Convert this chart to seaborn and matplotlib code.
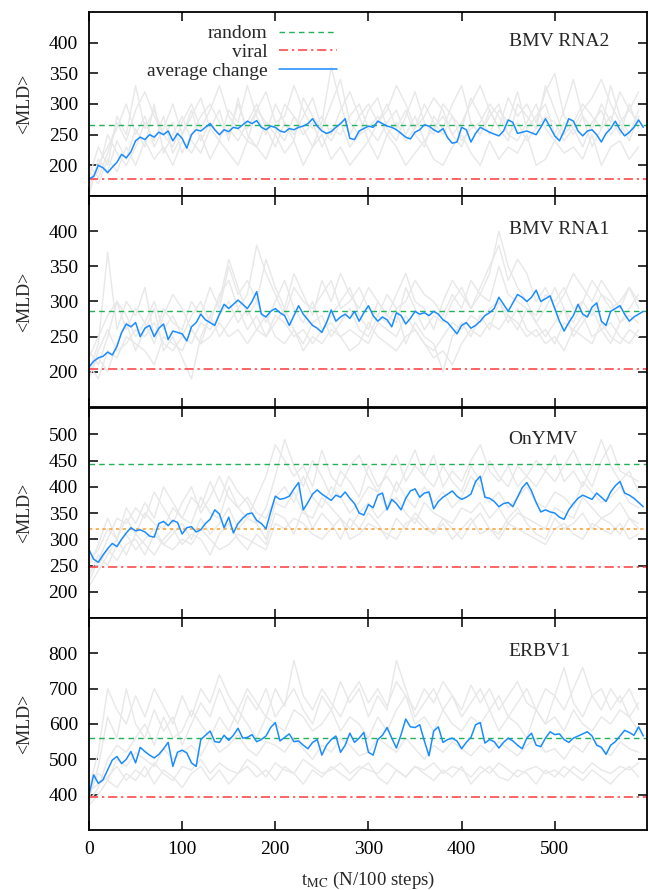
import numpy as np
import pandas as pd
import matplotlib
matplotlib.use("Agg")
import matplotlib.pyplot as plt
import seaborn as sns

# time grids (in units of N/100 MC steps)
T_AVG = np.arange(0, 600, 5)
T_RUN = np.arange(0, 600, 10)

PANELS = ["BMV RNA2", "BMV RNA1", "OnYMV", "ERBV1"]
RANDOM_MLD = [265, 287, 444, 560]
VIRAL_MLD = [177, 204, 248, 393]
ONYMV_EXTRA = 319
YLIMS = [(150, 450), (150, 450), (150, 550), (300, 900)]
YTICKS = [range(200, 401, 50), range(200, 401, 50), range(200, 501, 50), range(400, 801, 100)]

# average change curves, read at every 5 units
AVG_RNA2 = [178, 182, 200, 196, 188, 197, 205, 218, 212, 222,
            240, 246, 242, 250, 246, 254, 250, 256, 240, 252,
            244, 228, 250, 258, 256, 262, 268, 258, 250, 258,
            255, 262, 260, 266, 272, 268, 273, 262, 258, 264,
            262, 256, 254, 260, 258, 262, 264, 268, 276, 264,
            256, 252, 255, 262, 268, 276, 244, 242, 256, 260,
            264, 262, 272, 268, 264, 262, 258, 252, 246, 243,
            254, 258, 266, 264, 258, 254, 260, 245, 236, 238,
            262, 258, 238, 252, 262, 258, 254, 251, 248, 256,
            274, 270, 252, 254, 256, 253, 250, 262, 276, 262,
            248, 240, 256, 276, 272, 256, 248, 256, 258, 250,
            238, 252, 260, 272, 258, 248, 254, 262, 274, 262]
AVG_RNA1 = [207, 215, 220, 222, 228, 224, 236, 256, 268, 264,
            270, 250, 262, 266, 250, 262, 268, 246, 258, 256,
            254, 244, 264, 270, 282, 274, 270, 266, 282, 296,
            290, 296, 302, 296, 290, 300, 314, 282, 278, 286,
            290, 284, 280, 266, 280, 294, 282, 274, 266, 262,
            256, 270, 288, 272, 278, 282, 276, 286, 272, 284,
            294, 280, 272, 278, 274, 264, 284, 280, 268, 276,
            286, 282, 284, 280, 286, 282, 274, 270, 262, 254,
            266, 270, 262, 266, 272, 280, 284, 290, 306, 296,
            286, 298, 310, 306, 300, 306, 316, 300, 304, 308,
            290, 272, 258, 270, 280, 296, 282, 278, 292, 298,
            272, 266, 286, 290, 294, 282, 272, 278, 282, 286]
AVG_ONYMV = [280, 262, 256, 270, 282, 292, 286, 300, 312, 322,
             316, 318, 314, 306, 304, 330, 334, 326, 336, 332,
             310, 322, 324, 314, 318, 330, 338, 356, 348, 322,
             342, 312, 330, 340, 348, 350, 336, 330, 320, 352,
             382, 376, 378, 382, 396, 408, 356, 370, 386, 394,
             386, 380, 374, 384, 380, 390, 378, 368, 350, 346,
             366, 360, 384, 388, 356, 376, 368, 356, 378, 392,
             396, 380, 388, 390, 358, 372, 380, 386, 392, 382,
             376, 380, 386, 410, 420, 380, 378, 372, 362, 368,
             370, 362, 380, 398, 408, 392, 370, 352, 356, 352,
             350, 342, 338, 356, 368, 378, 384, 380, 376, 388,
             380, 372, 390, 402, 410, 388, 384, 378, 370, 362]
AVG_ERBV1 = [400, 456, 432, 442, 470, 498, 508, 488, 500, 522,
             490, 534, 522, 512, 504, 514, 530, 548, 480, 520,
             526, 518, 490, 480, 556, 568, 580, 550, 548, 568,
             554, 568, 588, 560, 562, 570, 550, 556, 566, 590,
             604, 552, 562, 572, 550, 552, 540, 530, 548, 556,
             512, 540, 556, 566, 520, 540, 574, 548, 560, 576,
             520, 512, 556, 568, 590, 560, 532, 570, 614, 592,
             590, 598, 552, 510, 580, 592, 548, 556, 560, 552,
             530, 548, 562, 598, 604, 546, 556, 550, 532, 548,
             560, 552, 540, 530, 560, 574, 540, 536, 560, 578,
             570, 572, 556, 548, 560, 566, 572, 578, 566, 540,
             534, 514, 540, 550, 566, 582, 576, 568, 592, 566]

# individual runs (grey), read at every 10 units
RUNS_RNA2 = [
    [160, 200, 230, 260, 300, 250, 280, 230, 260, 300, 250, 280, 310, 260, 240, 290, 270, 330, 280, 250,
     300, 270, 240, 310, 280, 260, 300, 340, 270, 250, 290, 310, 260, 240, 280, 320, 270, 250, 300, 280,
     260, 310, 280, 250, 290, 270, 320, 260, 280, 300, 250, 290, 340, 280, 260, 300, 270, 320, 290, 270],
    [190, 170, 210, 190, 230, 200, 240, 210, 230, 200, 240, 220, 250, 210, 240, 220, 200, 240, 230, 210,
     250, 220, 240, 200, 230, 250, 210, 230, 200, 220, 240, 210, 250, 230, 200, 220, 240, 210, 200, 230,
     250, 220, 200, 240, 210, 230, 220, 250, 200, 210, 240, 220, 230, 210, 250, 200, 230, 240, 210, 230],
    [180, 230, 200, 280, 250, 330, 260, 290, 250, 270, 220, 250, 280, 300, 270, 250, 300, 260, 290, 320,
     270, 280, 330, 290, 260, 280, 250, 290, 320, 280, 300, 270, 290, 330, 300, 260, 280, 310, 290, 250,
     270, 300, 330, 290, 260, 310, 280, 300, 270, 320, 350, 280, 260, 290, 310, 340, 300, 270, 290, 320],
    [170, 190, 250, 220, 200, 230, 270, 240, 280, 220, 250, 290, 240, 270, 250, 260, 240, 270, 300, 260,
     230, 270, 250, 280, 310, 260, 240, 270, 230, 250, 260, 280, 250, 270, 240, 260, 300, 270, 250, 280,
     240, 260, 270, 300, 280, 250, 240, 270, 300, 260, 240, 270, 250, 280, 230, 260, 280, 250, 300, 260],
    [200, 180, 220, 270, 240, 290, 320, 280, 250, 230, 270, 300, 260, 290, 330, 280, 260, 240, 290, 270,
     250, 300, 280, 260, 230, 270, 360, 300, 250, 280, 240, 270, 300, 260, 290, 250, 230, 280, 260, 300,
     330, 270, 250, 290, 260, 240, 300, 280, 260, 330, 290, 250, 270, 300, 280, 260, 330, 280, 250, 290],
    [150, 210, 190, 240, 210, 260, 230, 300, 220, 250, 280, 240, 220, 260, 290, 240, 310, 250, 230, 270,
     260, 240, 280, 250, 270, 230, 260, 250, 280, 300, 260, 240, 270, 290, 250, 280, 240, 260, 280, 250,
     230, 270, 250, 280, 300, 250, 270, 240, 260, 280, 270, 240, 260, 230, 270, 290, 250, 270, 240, 280],
]
RUNS_RNA1 = [
    [200, 240, 370, 260, 300, 280, 320, 250, 290, 270, 260, 300, 280, 320, 290, 350, 310, 330, 300, 360,
     320, 290, 340, 310, 280, 330, 300, 340, 310, 290, 320, 300, 280, 310, 340, 300, 290, 260, 300, 330,
     310, 290, 320, 350, 380, 330, 360, 340, 300, 320, 290, 310, 340, 320, 300, 330, 310, 290, 320, 300],
    [210, 190, 230, 220, 250, 240, 230, 210, 250, 240, 230, 260, 240, 250, 270, 250, 260, 240, 260, 280,
     250, 240, 260, 230, 250, 240, 260, 250, 230, 240, 270, 250, 240, 230, 250, 260, 240, 220, 230, 210,
     240, 260, 250, 270, 260, 280, 270, 250, 260, 240, 250, 230, 260, 250, 240, 270, 250, 240, 260, 250],
    [220, 250, 280, 300, 260, 290, 270, 300, 260, 280, 250, 280, 300, 270, 310, 330, 290, 310, 380, 340,
     310, 280, 320, 300, 290, 310, 330, 290, 300, 320, 290, 280, 310, 290, 300, 330, 310, 300, 280, 310,
     290, 330, 310, 300, 350, 310, 300, 290, 280, 310, 300, 320, 290, 300, 330, 310, 290, 300, 320, 290],
    [190, 230, 260, 230, 240, 260, 250, 270, 240, 230, 250, 240, 270, 260, 280, 300, 270, 290, 260, 250,
     280, 270, 250, 260, 240, 260, 270, 250, 260, 250, 240, 270, 260, 250, 280, 260, 240, 230, 250, 270,
     260, 280, 270, 290, 300, 270, 290, 260, 250, 260, 240, 270, 260, 280, 250, 260, 270, 250, 240, 260],
    [230, 210, 250, 300, 280, 250, 270, 240, 280, 310, 290, 260, 240, 280, 300, 360, 320, 280, 300, 270,
     300, 330, 290, 270, 300, 260, 280, 300, 320, 280, 260, 300, 280, 270, 320, 290, 260, 280, 270, 300,
     320, 290, 310, 340, 400, 350, 320, 300, 270, 290, 320, 290, 270, 300, 280, 310, 300, 270, 290, 310],
    [200, 220, 200, 240, 270, 230, 260, 290, 230, 250, 220, 190, 250, 280, 250, 270, 290, 260, 280, 250,
     270, 290, 260, 240, 270, 280, 250, 270, 290, 260, 250, 280, 270, 290, 240, 270, 250, 240, 200, 250,
     270, 250, 280, 260, 300, 280, 260, 290, 270, 250, 270, 290, 250, 270, 290, 260, 240, 270, 280, 270],
]
RUNS_ONYMV = [
    [220, 260, 300, 340, 330, 360, 340, 390, 360, 330, 370, 400, 350, 380, 420, 380, 360, 340, 380, 420,
     480, 450, 420, 440, 400, 470, 420, 400, 440, 460, 420, 390, 430, 460, 410, 440, 420, 460, 400, 430,
     410, 450, 480, 430, 410, 440, 400, 420, 450, 430, 410, 440, 470, 430, 400, 450, 480, 430, 420, 410],
    [240, 250, 280, 260, 290, 300, 270, 310, 290, 280, 300, 290, 320, 300, 280, 290, 310, 300, 290, 280,
     330, 320, 340, 330, 310, 300, 320, 340, 300, 310, 330, 320, 310, 300, 330, 340, 320, 310, 330, 300,
     320, 340, 310, 320, 300, 330, 320, 310, 300, 290, 320, 330, 310, 300, 330, 320, 310, 330, 300, 310],
    [260, 280, 320, 300, 340, 310, 350, 330, 320, 360, 340, 330, 380, 350, 340, 400, 360, 380, 350, 340,
     380, 400, 370, 420, 380, 360, 400, 380, 350, 370, 400, 390, 360, 410, 380, 360, 400, 370, 390, 360,
     380, 420, 400, 370, 390, 360, 380, 400, 370, 360, 390, 380, 360, 410, 390, 370, 380, 400, 370, 360],
    [230, 270, 250, 290, 310, 280, 300, 320, 290, 310, 330, 300, 340, 310, 330, 360, 320, 340, 330, 300,
     370, 360, 390, 350, 340, 380, 360, 340, 320, 350, 370, 340, 360, 380, 350, 330, 370, 350, 340, 330,
     360, 350, 370, 340, 360, 330, 350, 340, 330, 320, 360, 350, 340, 380, 360, 340, 350, 370, 340, 330],
    [250, 290, 340, 300, 360, 330, 370, 340, 400, 370, 340, 380, 360, 410, 370, 420, 390, 370, 330, 360,
     420, 490, 440, 400, 450, 420, 380, 430, 410, 380, 440, 400, 420, 390, 430, 470, 420, 400, 440, 410,
     390, 440, 410, 450, 420, 400, 440, 420, 400, 430, 460, 410, 430, 400, 440, 490, 440, 410, 430, 390],
    [210, 240, 270, 300, 270, 310, 290, 270, 300, 320, 290, 310, 300, 270, 310, 330, 300, 280, 310, 290,
     350, 340, 310, 360, 320, 350, 330, 300, 340, 320, 350, 330, 300, 340, 320, 350, 330, 310, 340, 320,
     300, 330, 350, 320, 310, 340, 360, 330, 310, 300, 340, 320, 330, 350, 320, 340, 330, 310, 340, 320],
]
RUNS_ERBV1 = [
    [390, 480, 620, 560, 700, 600, 560, 640, 580, 620, 540, 600, 660, 620, 700, 640, 600, 680, 640, 700,
     620, 660, 700, 640, 600, 680, 640, 720, 660, 700, 620, 680, 640, 780, 700, 620, 660, 700, 640, 680,
     620, 660, 700, 640, 680, 620, 660, 700, 640, 600, 680, 760, 660, 620, 680, 700, 640, 680, 620, 660],
    [410, 430, 450, 480, 440, 470, 450, 490, 460, 440, 480, 470, 500, 460, 490, 470, 460, 500, 480, 450,
     490, 470, 460, 500, 480, 460, 470, 490, 460, 480, 470, 460, 490, 470, 450, 480, 470, 490, 460, 480,
     470, 450, 480, 460, 490, 470, 450, 470, 480, 460, 470, 450, 480, 460, 490, 470, 460, 480, 470, 490],
    [380, 420, 500, 540, 520, 560, 600, 540, 620, 560, 580, 640, 600, 560, 620, 580, 640, 600, 560, 620,
     600, 580, 640, 620, 580, 600, 640, 580, 620, 600, 560, 620, 580, 640, 680, 600, 620, 580, 640, 600,
     580, 620, 600, 640, 580, 620, 600, 560, 640, 600, 620, 580, 640, 600, 580, 620, 600, 640, 620, 580],
    [400, 460, 440, 500, 480, 520, 500, 480, 530, 500, 520, 540, 510, 560, 520, 540, 570, 530, 510, 550,
     540, 520, 560, 530, 500, 540, 520, 560, 540, 510, 520, 560, 540, 520, 560, 530, 500, 540, 520, 550,
     530, 510, 540, 520, 550, 530, 510, 540, 560, 520, 530, 500, 540, 520, 560, 530, 510, 550, 530, 520],
    [420, 520, 700, 640, 600, 680, 620, 700, 650, 600, 680, 620, 700, 660, 740, 680, 640, 700, 660, 620,
     700, 650, 780, 680, 640, 700, 660, 620, 680, 720, 660, 700, 650, 720, 680, 640, 700, 660, 720, 680,
     640, 710, 660, 700, 640, 680, 720, 660, 640, 700, 680, 640, 700, 760, 680, 640, 700, 660, 700, 640],
    [370, 400, 440, 420, 460, 440, 480, 430, 470, 450, 420, 460, 480, 440, 470, 430, 460, 480, 450, 470,
     440, 480, 460, 430, 470, 450, 480, 460, 440, 470, 490, 450, 430, 470, 450, 480, 460, 440, 470, 450,
     480, 430, 460, 480, 450, 440, 470, 460, 430, 470, 450, 480, 460, 440, 470, 450, 430, 460, 480, 450],
]

AVERAGES = [AVG_RNA2, AVG_RNA1, AVG_ONYMV, AVG_ERBV1]
RUNS = [RUNS_RNA2, RUNS_RNA1, RUNS_ONYMV, RUNS_ERBV1]

GREY = "#e8e8e8"
BLUE = "#1a8cff"
GREEN = "#22b058"
RED = "#ff3a3a"
ORANGE = "#f5a030"

sns.set_theme(style="ticks")
plt.rcParams["font.family"] = ["Liberation Serif", "DejaVu Serif"]
plt.rcParams["mathtext.fontset"] = "stix"

W, H = 648, 890
# (top, bottom) pixel rows of the four stacked panels
rows = [(12, 196), (196, 407), (408, 618), (618, 830)]
left_px, right_px = 89, 647

fig = plt.figure(figsize=(W / 100, H / 100), dpi=100)

for i, (top, bot) in enumerate(rows):
    ax = fig.add_axes([left_px / W, 1 - bot / H, (right_px - left_px) / W, (bot - top) / H])

    runs_df = pd.concat(
        [pd.DataFrame({"t": T_RUN, "MLD": r, "run": k}) for k, r in enumerate(RUNS[i])],
        ignore_index=True)
    sns.lineplot(data=runs_df, x="t", y="MLD", units="run", estimator=None,
                 color=GREY, lw=1.0, ax=ax, legend=False)

    ax.axhline(RANDOM_MLD[i], color=GREEN, lw=1.0, dashes=(4, 3), label="random")
    ax.axhline(VIRAL_MLD[i], color=RED, lw=1.1, dashes=(6, 2.5, 1.5, 2.5), label="viral")
    if PANELS[i] == "OnYMV":
        ax.axhline(ONYMV_EXTRA, color=ORANGE, lw=1.1, dashes=(2.2, 2.2))

    avg_df = pd.DataFrame({"t": T_AVG, "MLD": AVERAGES[i]})
    sns.lineplot(data=avg_df, x="t", y="MLD", color=BLUE, lw=1.1, ax=ax,
                 label="average change" if i == 0 else None, legend=False)

    ax.set_xlim(0, 599)
    ax.set_ylim(*YLIMS[i])
    ax.set_xticks(range(0, 501, 100))
    ax.set_yticks(list(YTICKS[i]))
    ax.tick_params(direction="in", top=True, right=True, length=6.5, width=1.1,
                   labelsize=14, pad=8, colors="black")
    for s in ax.spines.values():
        s.set_linewidth(1.3)
        s.set_color("black")

    ax.set_ylabel("<MLD>", fontsize=13)
    ax.yaxis.set_label_coords(-0.10, 0.5)
    if i < 3:
        ax.set_xticklabels([])
        ax.set_xlabel("")
    else:
        ax.set_xlabel("t$_{\\mathrm{MC}}$ (N/100 steps)", fontsize=13.5)
        ax.xaxis.set_label_coords(0.5, -0.19)

    ax.text(0.752, 0.84 if i != 2 else 0.85, PANELS[i], transform=ax.transAxes,
            fontsize=14, ha="left", va="center")

    if i == 0:
        handles, labels = ax.get_legend_handles_labels()
        ax.legend(handles, labels, loc="upper right", bbox_to_anchor=(0.444, 0.93),
                  frameon=False, markerfirst=False, fontsize=14, handlelength=2.95,
                  labelspacing=0.05, borderaxespad=0, borderpad=0, handletextpad=0.62)

fig.savefig("out.png", dpi=100)
